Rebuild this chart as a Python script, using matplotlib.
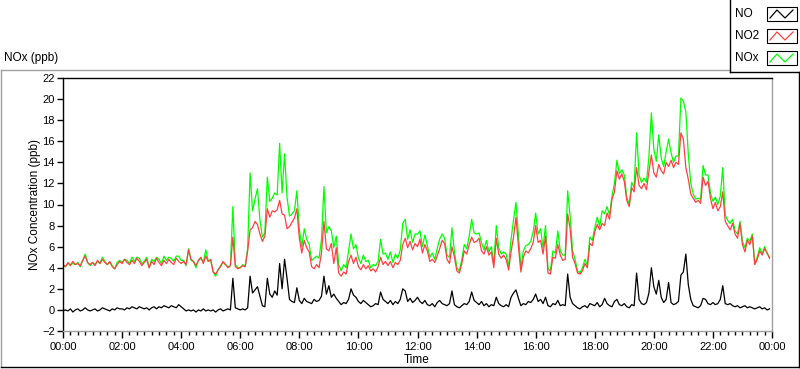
import numpy as np
import matplotlib
matplotlib.use('Agg')
import matplotlib.pyplot as plt
from matplotlib.lines import Line2D
from matplotlib.patches import Rectangle

# 5-minute readings, 00:00 .. 23:55 (one row per hour)
no2_ppb = [
    4.3, 4.1, 4.5, 4.2, 4.6, 4.3, 4.4, 4.2, 4.7, 5.1, 4.5, 4.3,
    4.5, 4.2, 4.7, 4.4, 4.8, 4.5, 4.3, 4.6, 4.1, 3.9, 4.3, 4.6,
    4.4, 4.8, 4.5, 4.3, 4.7, 4.4, 4.9, 4.6, 4.2, 4.5, 4.8, 4.0,
    4.6, 4.3, 4.9, 4.5, 4.2, 4.7, 4.4, 4.8, 4.5, 4.3, 4.9, 4.6,
    4.4, 4.6, 4.3, 5.7, 4.8, 4.6, 4.2, 4.7, 5.0, 4.4, 5.1, 4.6,
    4.8, 3.6, 3.4, 3.8, 4.1, 4.6, 4.3, 4.0, 4.2, 6.9, 4.1, 3.9,
    4.0, 4.2, 4.1, 5.6, 7.6, 7.8, 8.4, 8.1, 7.2, 6.5, 7.0, 9.6,
    8.8, 9.4, 9.3, 9.5, 10.4, 9.1, 9.0, 7.7, 7.9, 8.3, 8.7, 9.6,
    6.8, 5.4, 6.6, 5.9, 5.5, 4.1, 3.9, 4.3, 4.0, 5.4, 8.4, 5.8,
    5.6, 6.3, 4.4, 5.9, 3.5, 3.2, 3.6, 3.4, 4.6, 5.2, 4.4, 5.0,
    4.1, 3.8, 4.3, 3.9, 4.2, 3.7, 3.9, 3.6, 4.1, 5.0, 4.3, 4.6,
    4.2, 4.6, 4.0, 4.5, 4.3, 4.7, 6.2, 6.8, 5.9, 6.5, 5.7, 6.3,
    6.0, 6.7, 5.4, 6.2, 5.6, 4.6, 4.8, 4.5, 5.1, 5.8, 6.6, 6.3,
    4.8, 4.4, 6.0, 5.0, 3.7, 3.5, 4.4, 5.6, 5.3, 6.2, 6.9, 6.4,
    6.5, 6.8, 5.6, 5.3, 6.0, 5.2, 5.5, 4.0, 6.8, 5.3, 4.9, 5.2,
    4.8, 3.8, 5.5, 6.9, 8.8, 6.0, 3.6, 5.0, 5.6, 5.4, 5.8, 6.4,
    8.0, 6.4, 6.6, 5.3, 7.0, 3.5, 3.4, 5.0, 4.9, 6.2, 5.2, 4.7,
    4.8, 9.1, 7.7, 5.0, 4.4, 3.5, 3.4, 3.7, 4.4, 4.0, 6.3, 6.1,
    7.4, 8.1, 7.6, 8.2, 8.0, 9.2, 8.6, 10.5, 11.2, 13.2, 12.4, 12.9,
    12.2, 10.4, 9.8, 11.6, 11.2, 13.5, 11.8, 11.5, 12.0, 11.4, 13.1, 14.7,
    13.0, 12.6, 13.8, 13.2, 12.9, 14.0, 13.6, 14.2, 13.5, 14.0, 13.8, 16.8,
    16.2, 13.5, 12.4, 11.0, 10.6, 10.2, 10.4, 10.1, 12.6, 11.8, 12.2, 10.6,
    9.6, 10.2, 9.4, 9.8, 11.2, 8.4, 8.0, 7.6, 8.2, 7.2, 6.8, 8.2,
    6.2, 5.5, 6.6, 6.2, 7.0, 4.3, 4.8, 5.6, 5.2, 5.8, 5.4, 4.9,
]

no_ppb = [
    -0.1, 0.0, -0.1, 0.1, -0.2, 0.0, 0.1, -0.1, 0.0, 0.2, 0.0, -0.1,
    0.0, 0.1, -0.1, 0.0, 0.2, 0.1, 0.0, -0.1, 0.1, 0.0, 0.2, 0.1,
    0.1, 0.0, 0.2, 0.1, 0.3, 0.2, 0.1, 0.3, 0.2, 0.1, 0.2, 0.0,
    0.2, 0.3, 0.1, 0.3, 0.2, 0.4, 0.3, 0.2, 0.4, 0.3, 0.2, 0.5,
    0.3, 0.1, -0.1, 0.0, -0.1, 0.0, -0.2, 0.0, -0.1, 0.1, -0.1, 0.0,
    -0.1, 0.0, -0.2, 0.0, 0.1, -0.1, 0.0, 0.1, 0.0, 3.0, 0.2, 0.1,
    0.0, 0.1, 0.0, 0.2, 3.2, 1.6, 1.9, 2.2, 1.3, 0.4, 0.3, 3.0,
    1.5, 1.2, 1.8, 1.4, 4.4, 2.0, 4.8, 3.0, 1.0, 0.8, 0.7, 2.1,
    0.9, 0.6, 1.1, 0.8, 0.7, 0.6, 1.0, 0.8, 0.9, 1.3, 3.2, 1.5,
    2.3, 1.2, 1.5, 1.1, 0.8, 0.5, 0.7, 0.6, 1.0, 2.0, 1.4, 1.2,
    0.8, 0.6, 0.9, 0.7, 0.5, 0.3, 0.4, 0.6, 0.5, 1.7, 1.0, 0.8,
    0.6, 0.9, 0.5, 0.8, 0.6, 1.0, 2.0, 1.8, 0.8, 1.1, 0.7, 0.9,
    1.2, 0.8, 0.6, 0.9, 0.5, 0.4, 0.6, 0.3, 0.7, 0.9, 0.6, 0.5,
    0.4, 0.6, 1.8, 0.5, 0.3, 0.2, 0.4, 0.6, 0.5, 0.8, 1.7, 0.9,
    0.7, 0.5, 0.8, 0.4, 0.6, 0.3, 0.5, 0.4, 1.2, 0.6, 0.4, 0.3,
    0.5, 0.3, 1.2, 1.6, 1.9, 1.1, 0.4, 0.6, 0.5, 0.8, 0.7, 1.0,
    1.5, 0.8, 1.0, 0.6, 1.2, 0.4, 0.3, 0.6, 0.5, 0.9, 0.4, 0.5,
    0.4, 3.4, 1.2, 0.6, 0.4, 0.2, 0.1, 0.3, 0.4, 0.2, 0.6, 0.5,
    0.4, 0.7, 0.3, 0.5, 1.1, 0.6, 0.4, 0.3, 0.8, 1.0, 0.5, 0.4,
    0.6, 0.3, 0.2, 0.5, 0.4, 3.5, 1.0, 0.6, 0.5, 0.7, 1.6, 4.0,
    2.2, 1.5, 2.8, 1.2, 0.7, 1.0, 2.6, 0.7, 0.5, 0.6, 0.8, 3.3,
    3.6, 5.3, 2.4, 1.0, 0.4, 0.3, 0.2, 0.4, 1.1, 1.0, 0.6, 0.5,
    0.7, 0.5, 0.6, 1.0, 2.3, 0.6, 0.5, 0.6, 0.4, 0.3, 0.4, 0.2,
    0.3, 0.4, 0.2, 0.3, 0.2, 0.1, 0.2, 0.3, 0.1, 0.2, 0.0, 0.1,
]

nox_ppb = [
    4.2, 4.1, 4.4, 4.3, 4.4, 4.3, 4.5, 4.1, 4.7, 5.3, 4.5, 4.2,
    4.5, 4.3, 4.6, 4.4, 5.0, 4.6, 4.3, 4.5, 4.2, 3.9, 4.5, 4.7,
    4.5, 4.8, 4.7, 4.4, 5.0, 4.6, 5.0, 4.9, 4.4, 4.6, 5.0, 4.0,
    4.8, 4.6, 5.0, 4.8, 4.4, 5.1, 4.7, 5.0, 4.9, 4.6, 5.1, 5.1,
    4.7, 4.7, 4.2, 5.8, 4.7, 4.6, 4.0, 4.7, 4.9, 4.5, 5.7, 4.6,
    4.7, 3.6, 3.2, 3.8, 4.2, 4.5, 4.3, 4.1, 4.2, 9.8, 4.3, 4.0,
    4.0, 4.3, 4.1, 5.8, 13.0, 9.4, 10.5, 11.5, 8.5, 6.9, 7.3, 12.6,
    10.3, 10.6, 11.1, 10.9, 15.8, 11.1, 14.8, 10.7, 8.9, 9.1, 9.4, 11.3,
    7.7, 6.0, 7.7, 6.7, 6.2, 4.7, 4.9, 5.1, 4.9, 6.7, 11.7, 7.3,
    7.9, 7.5, 5.9, 7.0, 4.3, 3.7, 4.3, 4.0, 5.6, 7.2, 5.8, 6.2,
    4.9, 4.4, 5.2, 4.6, 4.7, 4.0, 4.3, 4.2, 4.6, 6.7, 5.3, 5.4,
    4.8, 5.5, 4.5, 5.3, 4.9, 5.7, 8.2, 8.6, 6.7, 7.6, 6.4, 7.2,
    7.2, 7.5, 6.0, 7.1, 6.1, 5.0, 5.4, 4.8, 5.8, 6.7, 7.2, 6.8,
    5.2, 5.0, 7.8, 5.5, 4.0, 3.7, 4.8, 6.2, 5.8, 7.0, 8.6, 7.3,
    7.2, 7.3, 6.4, 5.7, 6.6, 5.5, 6.0, 4.4, 8.0, 5.9, 5.3, 5.5,
    5.3, 4.1, 6.7, 8.5, 10.2, 7.1, 4.0, 5.6, 6.1, 6.2, 6.5, 7.4,
    9.2, 7.2, 7.7, 5.9, 8.0, 3.9, 3.7, 5.6, 5.4, 7.5, 5.6, 5.2,
    5.2, 11.3, 8.9, 5.6, 4.8, 3.7, 3.5, 4.0, 4.8, 4.2, 6.9, 6.6,
    7.8, 8.8, 7.9, 9.4, 9.1, 9.8, 9.0, 10.8, 12.0, 14.2, 12.9, 13.3,
    12.8, 10.7, 10.0, 12.1, 11.6, 16.8, 12.8, 12.1, 12.5, 12.1, 14.5, 18.7,
    15.2, 14.1, 16.6, 14.4, 13.6, 15.0, 16.2, 14.9, 14.0, 14.6, 14.6, 20.1,
    19.8, 18.8, 14.8, 12.0, 11.0, 10.5, 10.6, 10.5, 13.7, 12.8, 12.8, 11.1,
    10.3, 10.7, 10.0, 10.8, 13.5, 9.0, 8.5, 8.2, 8.6, 7.5, 7.2, 8.4,
    6.5, 5.9, 6.8, 6.5, 7.2, 4.4, 5.0, 5.9, 5.3, 6.0, 5.4, 5.0,
]

minutes = np.arange(len(no2_ppb)) * 5
tick_minutes = np.arange(0, 1441, 120)
tick_labels = ['00:00', '02:00', '04:00', '06:00', '08:00', '10:00', '12:00',
               '14:00', '16:00', '18:00', '20:00', '22:00', '00:00']
y_ticks = np.arange(-2, 23, 2)

series = [('NO', no_ppb, 'black'),
          ('NO2', no2_ppb, '#ff4040'),
          ('NOx', nox_ppb, '#00ff00')]

plt.rcParams['font.family'] = ['Liberation Sans', 'DejaVu Sans']

W, H = 800, 369
fig = plt.figure(figsize=(W / 100, H / 100), dpi=100)
fig.patch.set_facecolor('white')


def fx(x):
    return x / W


def fy(y):
    return 1 - y / H


ax = fig.add_axes([fx(63), fy(331), (772 - 63) / W, (331 - 78) / H])
ax.plot(minutes, nox_ppb, color='#00ff00', lw=0.9)
ax.plot(minutes, no2_ppb, color='#ff4040', lw=0.9)
ax.plot(minutes, no_ppb, color='black', lw=0.9)

ax.set_xlim(0, 1440)
ax.set_ylim(-2, 22)
ax.set_xticks(tick_minutes)
ax.set_xticklabels(tick_labels)
ax.set_xticks(np.arange(0, 1441, 15), minor=True)
ax.set_yticks(y_ticks)
ax.tick_params(axis='both', labelsize=8, colors='black', direction='out')
ax.tick_params(axis='x', which='major', length=5, width=1, pad=3)
ax.tick_params(axis='x', which='minor', length=3, width=1)
ax.tick_params(axis='y', which='major', length=4, width=1, pad=2)
ax.spines['left'].set_color('black')
ax.spines['top'].set_color('black')
ax.spines['bottom'].set_color('#a0a0a0')
ax.spines['right'].set_color('#a0a0a0')
for s in ax.spines.values():
    s.set_linewidth(1)

fig.text(fx(35), fy(205), 'NOx Concentration (ppb)', rotation=90,
         ha='center', va='center', fontsize=8.5)
fig.text(fx(417), fy(360), 'Time', ha='center', va='center', fontsize=8.5)
fig.text(fx(4), fy(58), 'NOx (ppb)', ha='left', va='center', fontsize=8.5)

# outer graph frame
frame = [((1, 70), (730, 70), '#a0a0a0'),
         ((1, 70), (1, 367), '#a0a0a0'),
         ((1, 367), (799, 367), 'black'),
         ((799, 72), (799, 367), 'black')]
for (x0, y0), (x1, y1), c in frame:
    fig.add_artist(Line2D([fx(x0), fx(x1)], [fy(y0), fy(y1)], color=c, lw=1))

# legend box
fig.add_artist(Rectangle((fx(730), fy(72)), fx(70), 72 / H,
                         facecolor='white', edgecolor='none'))
fig.add_artist(Line2D([fx(730), fx(730)], [fy(0), fy(72)], color='black', lw=1))
fig.add_artist(Line2D([fx(730), fx(800)], [fy(72), fy(72)], color='black', lw=1))
for i, (name, vals, color) in enumerate(series):
    yc = 14 + 22 * i
    fig.text(fx(735), fy(yc), name, ha='left', va='center', fontsize=8.5)
    fig.add_artist(Rectangle((fx(767), fy(yc + 7)), fx(30), 14 / H,
                             facecolor='white', edgecolor='black', lw=0.8))
    zx = [770, 777, 785, 793]
    zy = [yc + 4, yc - 4, yc + 4, yc - 4]
    fig.add_artist(Line2D([fx(v) for v in zx], [fy(v) for v in zy],
                          color=color, lw=0.9))

fig.savefig('out.png', dpi=100)
